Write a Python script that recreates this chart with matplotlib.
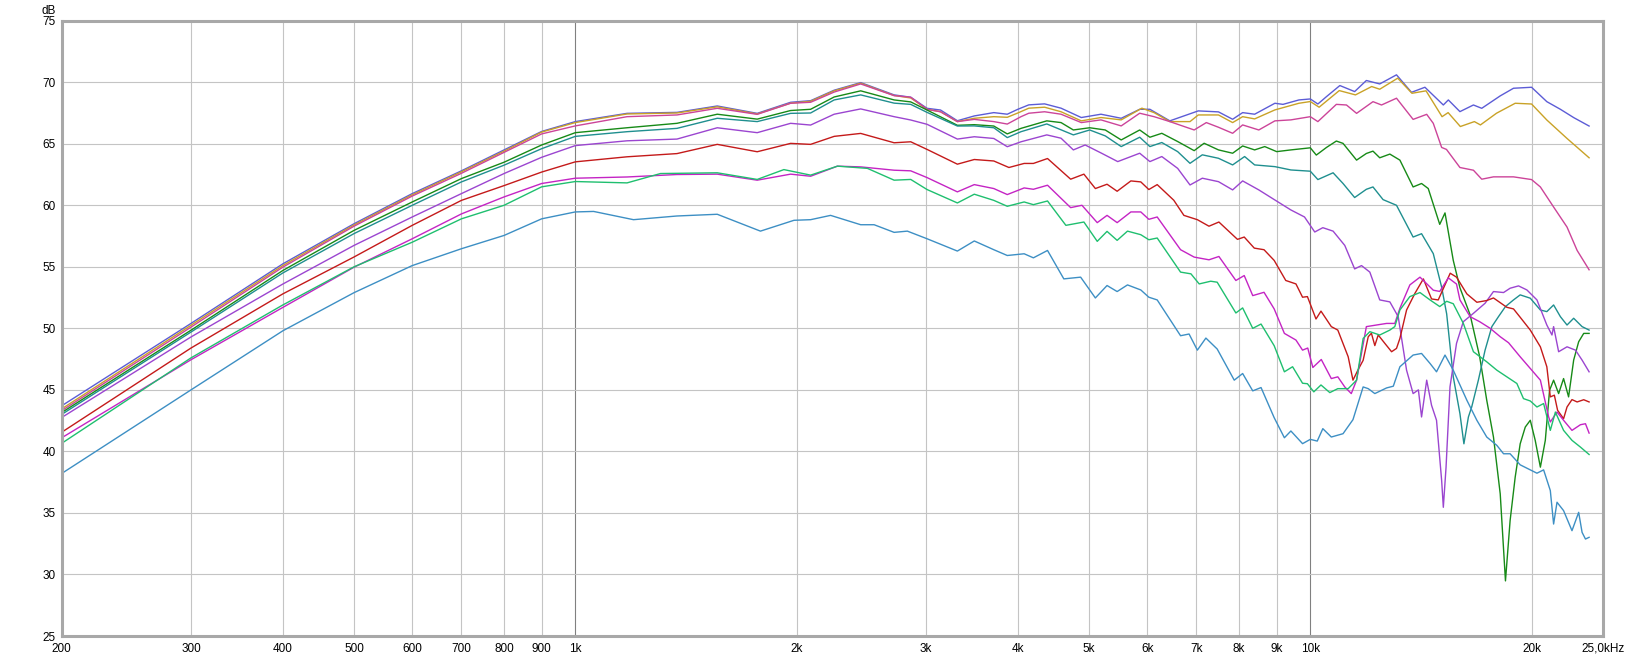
import matplotlib
matplotlib.use('Agg')
import matplotlib.pyplot as plt
from matplotlib.ticker import NullLocator

# Frequency (Hz) / level (dB) pairs for every trace

f_blue = [200, 300, 400, 500, 600, 700, 800, 900, 1000, 1176, 1375, 1560, 1768, 1963, 2090, 2250, 2445, 2715,
          2860, 3010, 3140, 3310, 3490, 3710, 3870, 4000, 4140, 4350, 4580, 4880, 5190, 5530, 5860, 6050, 6440,
          7040, 7500, 7840, 8090, 8400, 8950, 9180, 9650, 10000, 10240, 10520, 10970, 11490, 11920, 12430, 13100,
          13730, 14320, 15170, 15410, 15980, 16670, 17110, 18130, 18900, 20000, 20980, 21890, 22830, 23950]
db_blue = [43.7, 50.4, 55.24, 58.5, 60.95, 62.8, 64.5, 66.0, 66.8, 67.47, 67.55, 68.07, 67.47, 68.37, 68.5, 69.35,
           69.97, 68.97, 68.78, 67.88, 67.74, 66.87, 67.26, 67.53, 67.4, 67.8, 68.16, 68.24, 67.89, 67.13, 67.4,
           67.07, 67.8, 67.8, 66.86, 67.67, 67.59, 66.99, 67.53, 67.4, 68.29, 68.2, 68.56, 68.64, 68.23, 68.83,
           69.73, 69.24, 70.14, 69.86, 70.6, 69.18, 69.59, 68.15, 68.56, 67.61, 68.15, 67.88, 68.89, 69.51, 69.59,
           68.42, 67.8, 67.12, 66.44]

f_gold = [200, 300, 400, 500, 600, 700, 800, 900, 1000, 1176, 1375, 1560, 1768, 1963, 2090, 2250, 2445, 2715,
          2860, 3010, 3140, 3310, 3490, 3710, 3870, 4000, 4140, 4350, 4580, 4880, 5190, 5530, 5900, 6130, 6440,
          6860, 7040, 7500, 7840, 8090, 8400, 8950, 9650, 10000, 10280, 10950, 11520, 12120, 12430, 13150, 13750,
          14370, 15110, 15400, 16000, 16720, 17040, 17920, 19000, 20000, 20980, 22350, 23950]
db_gold = [43.45, 50.25, 55.1, 58.4, 60.85, 62.72, 64.4, 65.95, 66.72, 67.42, 67.5, 68.0, 67.42, 68.3, 68.45,
           69.3, 69.92, 68.92, 68.72, 67.8, 67.6, 66.8, 67.07, 67.2, 67.15, 67.5, 67.89, 67.97, 67.6, 66.86, 67.13,
           66.94, 67.89, 67.53, 66.8, 66.8, 67.34, 67.34, 66.72, 67.2, 67.02, 67.75, 68.29, 68.43, 67.97, 69.32,
           68.97, 69.65, 69.43, 70.33, 69.1, 69.3, 67.2, 67.53, 66.4, 66.8, 66.53, 67.48, 68.29, 68.23, 66.93,
           65.43, 63.86]

f_pink = [200, 300, 400, 500, 600, 700, 800, 900, 1000, 1176, 1375, 1560, 1768, 1963, 2090, 2250, 2445, 2715,
          2860, 3010, 3140, 3310, 3490, 3710, 3870, 4040, 4140, 4350, 4580, 4880, 5190, 5530, 5860, 6130, 6440,
          6950, 7220, 7500, 7840, 8090, 8510, 8950, 9410, 10000, 10240, 10850, 11200, 11560, 12170, 12500, 13100,
          13800, 14400, 14700, 15090, 15320, 15980, 16670, 17110, 17750, 18900, 20000, 20560, 21430, 22350, 23070,
          23950]
db_pink = [43.3, 50.1, 54.97, 58.3, 60.75, 62.6, 64.3, 65.8, 66.45, 67.2, 67.34, 67.88, 67.39, 68.29, 68.37, 69.2,
           69.86, 68.91, 68.78, 67.8, 67.6, 66.8, 66.98, 66.8, 66.6, 67.2, 67.48, 67.6, 67.4, 66.72, 66.94, 66.45,
           67.48, 67.2, 66.8, 66.12, 66.72, 66.34, 65.85, 66.53, 66.12, 66.86, 66.94, 67.2, 66.8, 68.2, 68.15,
           67.47, 68.42, 68.15, 68.7, 66.98, 67.39, 66.66, 64.7, 64.54, 63.07, 62.85, 62.12, 62.31, 62.31, 62.09,
           61.49, 59.86, 58.23, 56.33, 54.76]

f_dgreen = [200, 300, 400, 500, 600, 700, 800, 900, 1000, 1176, 1375, 1560, 1768, 1963, 2090, 2250, 2445, 2715,
            2860, 3010, 3310, 3490, 3710, 3870, 4040, 4380, 4580, 4760, 5010, 5260, 5530, 5860, 6050, 6280, 6600,
            6950, 7170, 7500, 7840, 8090, 8400, 8670, 9000, 9410, 10000, 10190, 10520, 10850, 11080, 11560, 11920,
            12170, 12430, 12830, 13240, 13800, 14170, 14470, 15000, 15250, 15650, 15980, 16500, 17000, 17380,
            17750, 18130, 18430, 18700, 19000, 19300, 19610, 19920, 20230, 20560, 20880, 21160, 21430, 21770,
            22110, 22460, 22820, 23180, 23550, 23950]
db_dgreen = [43.15, 49.85, 54.7, 57.96, 60.27, 62.17, 63.5, 64.9, 65.9, 66.3, 66.66, 67.4, 67.0, 67.7, 67.8, 68.8,
             69.3, 68.56, 68.4, 67.74, 66.5, 66.55, 66.44, 65.8, 66.25, 66.86, 66.72, 66.12, 66.3, 66.12, 65.31,
             66.12, 65.53, 65.85, 65.18, 64.44, 65.04, 64.5, 64.23, 64.82, 64.5, 64.77, 64.36, 64.5, 64.67, 64.08,
             64.7, 65.22, 65.03, 63.67, 64.21, 64.4, 63.86, 64.16, 63.67, 61.49, 61.77, 61.36, 58.45, 59.38, 55.52,
             53.3, 51.09, 47.69, 44.16, 41.17, 36.55, 29.48, 34.38, 37.91, 40.62, 41.98, 42.53, 40.9, 38.72, 40.9,
             44.97, 45.79, 44.7, 45.92, 44.43, 47.42, 48.91, 49.59, 49.59]

f_teal = [200, 300, 400, 500, 600, 700, 800, 900, 1000, 1176, 1375, 1560, 1768, 1963, 2090, 2250, 2445, 2715,
          2860, 3010, 3310, 3490, 3710, 3870, 4040, 4380, 4760, 5010, 5260, 5530, 5860, 6050, 6280, 6600, 6860,
          7130, 7500, 7840, 8140, 8400, 8950, 9410, 10000, 10240, 10740, 11080, 11490, 11920, 12170, 12560, 13100,
          13800, 14170, 14700, 15090, 15330, 15650, 15980, 16180, 16410, 16580, 16930, 17290, 17660, 18030, 18430,
          18900, 19300, 19920, 20560, 20980, 21430, 21890, 22350, 22820, 23430, 23950]
db_teal = [43.0, 49.7, 54.5, 57.7, 60.0, 61.9, 63.26, 64.6, 65.6, 65.98, 66.25, 67.07, 66.8, 67.47, 67.5, 68.56,
           68.97, 68.3, 68.2, 67.55, 66.44, 66.45, 66.3, 65.5, 65.98, 66.61, 65.72, 66.12, 65.64, 64.77, 65.53,
           64.77, 65.1, 64.36, 63.41, 64.1, 63.82, 63.28, 63.96, 63.28, 63.14, 62.87, 62.77, 62.09, 62.64, 61.77,
           60.63, 61.3, 61.49, 60.46, 60.0, 57.42, 57.69, 56.07, 53.35, 51.17, 46.06, 43.07, 40.62, 42.8, 43.61,
           45.79, 48.23, 50.14, 50.95, 51.77, 52.31, 52.72, 52.45, 51.49, 51.36, 51.9, 50.95, 50.27, 50.82, 50.14,
           49.86]

f_purple = [200, 300, 400, 500, 600, 700, 800, 900, 1000, 1176, 1375, 1560, 1768, 1963, 2090, 2250, 2445, 2715,
            2860, 3010, 3310, 3490, 3710, 3870, 4040, 4380, 4580, 4760, 4940, 5200, 5470, 5860, 6050, 6280, 6600,
            6860, 7130, 7500, 7840, 8090, 8510, 8950, 9410, 9820, 10140, 10400, 10740, 11140, 11490, 11740, 12050,
            12430, 12830, 13170, 13520, 13800, 14030, 14170, 14400, 14620, 14850, 15090, 15170, 15300, 15490,
            15810, 16150, 16670, 17290, 17750, 18320, 18700, 19200, 19710, 20340, 20980, 21320, 21430, 21770,
            22350, 22950, 23430, 23950]
db_purple = [42.75, 49.3, 53.6, 56.74, 59.05, 60.95, 62.58, 63.9, 64.85, 65.24, 65.38, 66.3, 65.9, 66.66, 66.52,
             67.4, 67.83, 67.2, 66.93, 66.58, 65.38, 65.57, 65.43, 64.76, 65.16, 65.72, 65.45, 64.5, 64.9, 64.23,
             63.55, 64.23, 63.55, 63.96, 63.0, 61.65, 62.2, 61.92, 61.25, 61.98, 61.25, 60.43, 59.62, 59.05, 57.83,
             58.18, 57.9, 56.74, 54.83, 55.1, 54.57, 52.31, 52.15, 50.95, 46.6, 44.7, 45.0, 42.8, 45.79, 43.75,
             42.53, 37.64, 35.46, 38.72, 45.24, 48.78, 50.54, 51.22, 52.04, 52.99, 52.91, 53.26, 53.45, 53.12,
             52.31, 50.27, 49.46, 50.14, 48.1, 48.5, 48.23, 47.42, 46.47]

f_red = [200, 300, 400, 500, 600, 700, 800, 900, 1000, 1176, 1375, 1560, 1768, 1963, 2090, 2250, 2445, 2715, 2860,
         3010, 3310, 3490, 3710, 3890, 4080, 4200, 4390, 4720, 4920, 5100, 5290, 5460, 5700, 5880, 6030, 6190,
         6520, 6730, 7020, 7280, 7510, 7960, 8130, 8390, 8650, 8930, 9260, 9560, 9760, 9910, 10180, 10340, 10680,
         10900, 11260, 11430, 11620, 11800, 11990, 12110, 12240, 12370, 12630, 12900, 13100, 13240, 13520, 13880,
         14250, 14620, 14930, 15500, 15810, 16330, 16850, 17380, 17750, 18510, 18900, 19300, 19920, 20560, 20980,
         21210, 21480, 21700, 22110, 22350, 22700, 23070, 23550, 23950]
db_red = [41.55, 48.4, 52.8, 55.8, 58.37, 60.4, 61.6, 62.7, 63.53, 63.94, 64.2, 64.95, 64.35, 65.03, 64.95, 65.6,
          65.84, 65.08, 65.16, 64.54, 63.34, 63.72, 63.6, 63.07, 63.4, 63.4, 63.8, 62.12, 62.53, 61.36, 61.71,
          61.14, 61.98, 61.9, 61.28, 61.68, 60.41, 59.18, 58.83, 58.3, 58.64, 57.23, 57.42, 56.52, 56.39, 55.52,
          53.89, 53.61, 52.53, 52.58, 50.76, 51.4, 50.14, 49.86, 47.69, 45.79, 46.66, 47.4, 49.32, 49.6, 48.6,
          49.46, 48.78, 48.1, 48.37, 49.18, 51.49, 52.85, 54.02, 52.39, 52.31, 54.48, 54.16, 52.8, 52.12, 52.26,
          52.47, 51.71, 51.58, 50.9, 49.86, 48.5, 46.88, 44.43, 44.57, 43.34, 42.66, 43.61, 44.21, 44.02, 44.2,
          44.02]

f_magenta = [200, 300, 400, 500, 600, 700, 800, 900, 1000, 1176, 1375, 1560, 1768, 1963, 2090, 2273, 2445, 2715,
             2860, 3010, 3310, 3490, 3710, 3870, 4080, 4200, 4390, 4720, 4890, 5130, 5290, 5460, 5700, 5880, 6030,
             6190, 6660, 6950, 7280, 7510, 7920, 8130, 8350, 8650, 8930, 9220, 9560, 9760, 9920, 10080, 10350,
             10680, 10900, 11140, 11370, 11560, 11920, 12300, 12700, 13030, 13240, 13660, 14100, 14700, 15000,
             15410, 15810, 15980, 16500, 17000, 17570, 18130, 18610, 19300, 19920, 20560, 21100, 21210, 21660,
             22110, 22700, 23310, 23680, 23950]
db_magenta = [41.1, 47.45, 51.7, 54.97, 57.28, 59.3, 60.68, 61.77, 62.2, 62.3, 62.5, 62.53, 62.04, 62.53, 62.36,
              63.18, 63.12, 62.85, 62.8, 62.25, 61.09, 61.68, 61.36, 60.87, 61.41, 61.3, 61.63, 59.81, 60.0, 58.59,
              59.18, 58.59, 59.46, 59.46, 58.86, 59.05, 56.39, 55.79, 55.57, 55.84, 53.89, 54.29, 52.66, 52.93,
              51.58, 49.59, 49.05, 48.23, 48.4, 46.82, 47.47, 45.92, 46.06, 45.24, 44.7, 45.79, 50.14, 50.27, 50.4,
              50.4, 51.63, 53.53, 54.16, 53.1, 53.0, 54.1, 53.6, 52.31, 50.95, 50.54, 50.0, 49.32, 48.83, 47.69,
              46.74, 45.79, 42.8, 42.39, 43.2, 42.53, 41.71, 42.17, 42.25, 41.49]

f_green = [200, 300, 400, 500, 600, 700, 800, 900, 1000, 1176, 1306, 1560, 1768, 1922, 2090, 2273, 2497, 2715,
           2860, 3010, 3310, 3490, 3710, 3870, 4080, 4200, 4390, 4650, 4920, 5130, 5290, 5460, 5640, 5880, 6030,
           6190, 6660, 6880, 7060, 7320, 7470, 7920, 8090, 8350, 8570, 8930, 9220, 9460, 9760, 9910, 10110, 10340,
           10630, 10900, 11260, 11560, 11800, 12050, 12430, 12830, 13030, 13240, 13660, 14100, 14550, 15000,
           15330, 15650, 16150, 16670, 17380, 17940, 18510, 19100, 19500, 19920, 20340, 20770, 21210, 21550,
           22110, 22700, 23310, 23950]
db_green = [40.65, 47.6, 51.9, 55.0, 57.0, 58.9, 60.0, 61.5, 61.93, 61.82, 62.58, 62.64, 62.1, 62.9, 62.45, 63.18,
            63.0, 62.04, 62.1, 61.28, 60.19, 60.9, 60.4, 59.92, 60.27, 60.05, 60.35, 58.37, 58.64, 57.07, 57.88,
            57.15, 57.9, 57.61, 57.2, 57.34, 54.57, 54.43, 53.61, 53.83, 53.75, 51.25, 51.66, 50.0, 50.35, 48.59,
            46.47, 46.88, 45.54, 45.5, 44.84, 45.4, 44.78, 45.1, 45.1, 45.79, 49.18, 49.73, 49.46, 49.86, 50.14,
            51.49, 52.58, 52.91, 52.31, 51.77, 52.2, 52.0, 50.41, 48.1, 47.28, 46.6, 46.06, 45.52, 44.29, 44.1,
            43.61, 43.89, 41.71, 43.2, 41.71, 40.9, 40.35, 39.75]

f_steel = [200, 300, 400, 500, 600, 700, 800, 900, 1000, 1059, 1200, 1375, 1560, 1786, 1984, 2090, 2225, 2445,
           2550, 2715, 2830, 3010, 3310, 3490, 3710, 3870, 4080, 4200, 4390, 4620, 4870, 5100, 5290, 5460, 5640,
           5880, 6030, 6190, 6660, 6840, 7020, 7210, 7470, 7880, 8090, 8350, 8570, 8930, 9220, 9410, 9760, 10000,
           10220, 10400, 10680, 11080, 11430, 11800, 11990, 12240, 12700, 12970, 13240, 13800, 14170, 14550, 14850,
           15250, 15650, 16330, 16850, 17380, 17940, 18320, 18700, 19300, 19920, 20340, 20770, 21210, 21430, 21660,
           22110, 22700, 23180, 23430, 23680, 23950]
db_steel = [38.2, 45.0, 49.8, 52.9, 55.1, 56.47, 57.55, 58.9, 59.46, 59.5, 58.83, 59.13, 59.27, 57.9, 58.78, 58.83,
            59.18, 58.42, 58.42, 57.8, 57.9, 57.28, 56.28, 57.1, 56.39, 55.92, 56.06, 55.73, 56.33, 54.02, 54.16,
            52.47, 53.48, 52.99, 53.53, 53.12, 52.53, 52.31, 49.4, 49.54, 48.23, 49.21, 48.32, 45.79, 46.33, 44.92,
            45.19, 42.74, 41.11, 41.66, 40.63, 40.98, 40.84, 41.85, 41.17, 41.44, 42.58, 45.24, 45.1, 44.7, 45.16,
            45.3, 46.88, 47.83, 47.96, 47.15, 46.47, 47.83, 46.6, 44.16, 42.53, 41.17, 40.49, 39.81, 39.81, 38.91,
            38.5, 38.23, 38.5, 36.82, 34.1, 35.87, 35.19, 33.56, 35.05, 33.42, 32.88, 33.02]

x_ticks = [200, 300, 400, 500, 600, 700, 800, 900, 1000, 2000, 3000, 4000, 5000, 6000, 7000, 8000, 9000,
           10000, 20000, 25000]
x_labels = ['200', '300', '400', '500', '600', '700', '800', '900', '1k', '2k', '3k', '4k', '5k', '6k', '7k',
            '8k', '9k', '10k', '20k', '25,0kHz']
y_ticks = [25, 30, 35, 40, 45, 50, 55, 60, 65, 70, 75]


def plot_response():
    """
    Draw the family of frequency response traces on a log frequency axis and save it as out.png

    :return: None
    """
    traces = [
        (f_blue, db_blue, '#5c5cd6'),
        (f_gold, db_gold, '#c9a227'),
        (f_pink, db_pink, '#cc4499'),
        (f_dgreen, db_dgreen, '#178a17'),
        (f_teal, db_teal, '#1f8f8f'),
        (f_purple, db_purple, '#9b45d0'),
        (f_red, db_red, '#c41a1a'),
        (f_magenta, db_magenta, '#c424c4'),
        (f_green, db_green, '#1fbf6f'),
        (f_steel, db_steel, '#3d8fc4'),
    ]

    plt.rcParams['font.family'] = ['Liberation Sans', 'DejaVu Sans']
    fig = plt.figure(figsize=(16.33, 6.63), dpi=100)
    ax = fig.add_axes([0.0377, 0.0407, 0.9438, 0.9281])

    for freq, level, colour in traces:
        ax.plot(freq, level, color=colour, lw=1.0, solid_joinstyle='round')

    # axes configuration
    ax.set_xscale('log')
    ax.set_xlim(200, 25000)
    ax.set_ylim(25, 75)
    ax.xaxis.set_minor_locator(NullLocator())
    ax.set_xticks(x_ticks)
    ax.set_xticklabels(x_labels)
    ax.set_yticks(y_ticks)
    ax.tick_params(length=0, labelsize=8.5, colors='black')
    ax.tick_params(axis='x', pad=5)
    ax.tick_params(axis='y', pad=4)

    # grid, with darker lines on the decades
    ax.set_axisbelow(True)
    ax.grid(True, color='#c4c4c4', lw=0.8)
    for line, tick in zip(ax.get_xgridlines(), x_ticks):
        if tick in (1000, 10000):
            line.set_color('#808080')

    for spine in ax.spines.values():
        spine.set_color('#a8a8a8')
        spine.set_linewidth(2.2)

    fig.text(49 / 1633, 1 - 11 / 663, 'dB', fontsize=8.5, ha='center', va='center')

    fig.savefig('out.png', dpi=100)


if __name__ == "__main__":
    plot_response()
